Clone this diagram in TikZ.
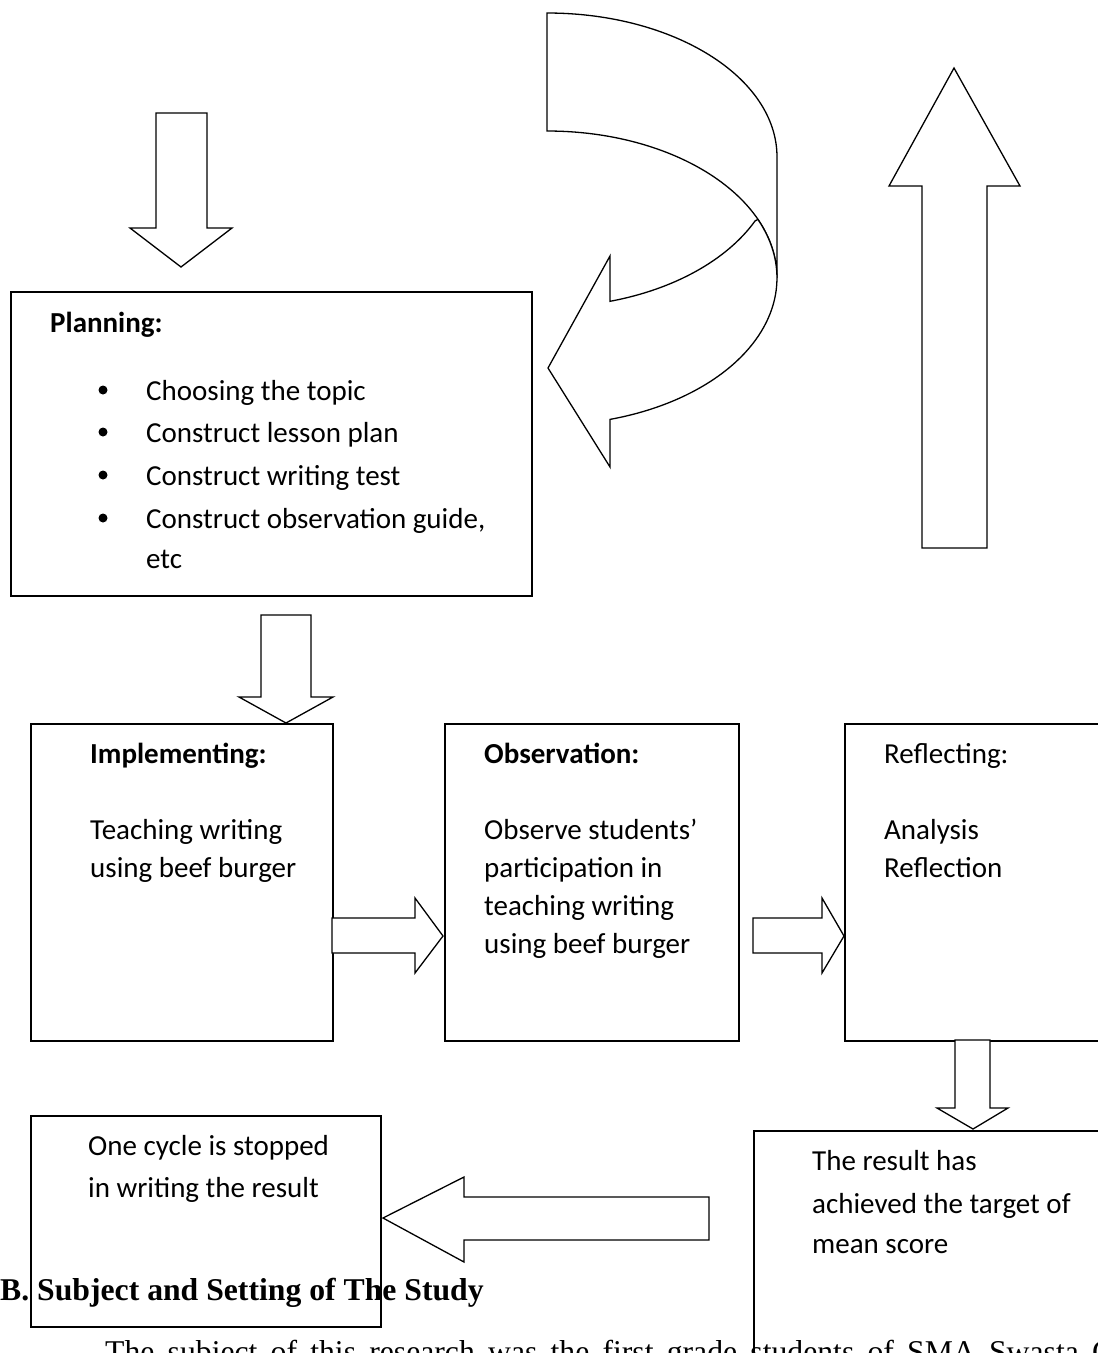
\documentclass[tikz,border=0pt]{standalone}
\usepackage{fontspec}
\setmainfont{Carlito}
\newfontfamily\timesfont{Liberation Serif}
\begin{document}
\begin{tikzpicture}[x=1pt,y=1pt,
  box/.style={draw, line width=1.6pt, inner sep=0pt, anchor=north west},
  blockarrow/.style={draw, fill=white, line width=1.3pt, line join=miter},
  lbl/.style={anchor=base west, inner sep=0pt, font=\fontsize{29}{35}\selectfont},
  blbl/.style={anchor=base west, inner sep=0pt, font=\fontsize{29}{35}\selectfont\bfseries},
  bul/.style={fill=black},
  heading/.style={anchor=base west, inner sep=0pt, font=\timesfont\fontsize{31.7}{38}\selectfont\bfseries},
  body/.style={anchor=base west, inner sep=0pt, font=\timesfont\fontsize{31.7}{38}\selectfont}
]
\useasboundingbox (0,0) rectangle (1098,-1353);
\clip (0,0) rectangle (1098,-1353);

% ---- boxes ----
\node[box, minimum width=521pt, minimum height=304pt] (plan) at (10,-291) {};
\node[box, minimum width=302pt, minimum height=317pt] (impl) at (30,-723) {};
\node[box, minimum width=294pt, minimum height=317pt] (obs) at (444,-723) {};
\node[box, minimum width=266pt, minimum height=317pt] (refl) at (844,-723) {};
\node[box, minimum width=357pt, minimum height=240pt] (res) at (753,-1130) {};
\node[box, minimum width=350pt, minimum height=211pt] (cyc) at (30,-1115) {};

% ---- curved arrow (back band, then front band) ----
\draw[blockarrow] (547,-13) arc[start angle=90, end angle=0, x radius=230, y radius=144]
  -- (777,-278) arc[start angle=0, end angle=90, x radius=230, y radius=147] -- cycle;
\draw[blockarrow] (757.9,-219.4) arc[start angle=23.5, end angle=-74.1, x radius=230, y radius=147]
  -- (610,-467) -- (548,-368) -- (610,-256) -- (610,-301.3)
  arc[start angle=-74.1, end angle=-25.2, x radius=230, y radius=150] -- cycle;

% ---- straight block arrows ----
\draw[blockarrow] (922,-548) -- (922,-186) -- (889,-186) -- (954,-68) -- (1020,-186) -- (987,-186) -- (987,-548) -- cycle;
\draw[blockarrow] (156,-113) -- (207,-113) -- (207,-228) -- (232,-228) -- (181,-267) -- (130,-228) -- (156,-228) -- cycle;
\draw[blockarrow] (261,-615) -- (311,-615) -- (311,-697) -- (333,-697) -- (286,-723) -- (239,-697) -- (261,-697) -- cycle;
\draw[blockarrow] (332,-918) -- (415,-918) -- (415,-898) -- (443,-936) -- (415,-973) -- (415,-953) -- (332,-953) -- cycle;
\draw[blockarrow] (753,-918) -- (822,-918) -- (822,-898) -- (844,-936) -- (822,-973) -- (822,-953) -- (753,-953) -- cycle;
\draw[blockarrow] (955,-1040) -- (990,-1040) -- (990,-1108) -- (1008,-1108) -- (973,-1129) -- (937,-1108) -- (955,-1108) -- cycle;
\draw[blockarrow] (709,-1197) -- (709,-1240) -- (464,-1240) -- (464,-1262) -- (383,-1218) -- (464,-1177) -- (464,-1197) -- cycle;

% ---- planning text ----
\node[blbl] (pt) at (50,-332) {Planning:};
\fill[bul] (103,-390) circle (4.5);
\fill[bul] (103,-432) circle (4.5);
\fill[bul] (103,-475) circle (4.5);
\fill[bul] (103,-518) circle (4.5);
\node[lbl] (p1) at (146,-400) {Choosing the topic};
\node[lbl] (p2) at (146,-442) {Construct lesson plan};
\node[lbl] (p3) at (146,-485) {Construct writing test};
\node[lbl] (p4) at (146,-528) {Construct observation guide,};
\node[lbl] (p5) at (146,-568) {etc};

% ---- implementing ----
\node[blbl] (it) at (90,-763) {Implementing:};
\node[lbl] (i1) at (90,-839) {Teaching writing};
\node[lbl] (i2) at (90,-877) {using beef burger};

% ---- observation ----
\node[blbl] (ot) at (484,-763) {Observation:};
\node[lbl] (o1) at (484,-839) {Observe students’};
\node[lbl] (o2) at (484,-877) {participation in};
\node[lbl] (o3) at (484,-915) {teaching writing};
\node[lbl] (o4) at (484,-953) {using beef burger};

% ---- reflecting ----
\node[lbl] (rt) at (884,-763) {Reflecting:};
\node[lbl] (r1) at (884,-839) {Analysis};
\node[lbl] (r2) at (884,-877) {Reflection};

% ---- result ----
\node[lbl] (s1) at (812,-1170) {The result has};
\node[lbl] (s2) at (812,-1213) {achieved the target of};
\node[lbl] (s3) at (812,-1253) {mean score};

% ---- cycle ----
\node[lbl] (c1) at (88,-1155) {One cycle is stopped};
\node[lbl] (c2) at (88,-1197) {in writing the result};

% ---- document text ----
\node[heading] (hd) at (0,-1300) {B. Subject and Setting of The Study};
\node[body] (bd) at (105,-1362) {\makebox[1008pt][s]{The subject of this research was the first grade students of SMA Swasta C}};
\end{tikzpicture}
\end{document}
